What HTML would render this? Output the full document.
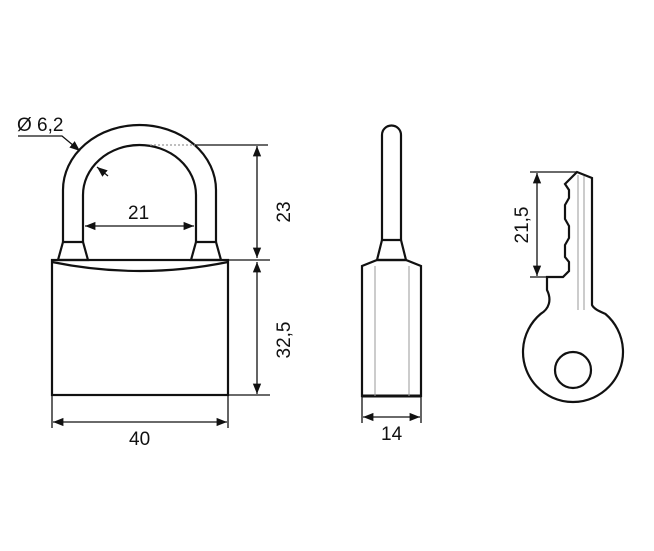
<!DOCTYPE html>
<html><head><style>body{margin:0;background:#fff}svg{display:block}text{font-family:"Liberation Sans",sans-serif;font-size:19px;fill:#111}</style></head><body>
<svg width="654" height="551" viewBox="0 0 654 551" xmlns="http://www.w3.org/2000/svg">
<defs><marker id="a" viewBox="0 0 10 10" refX="10" refY="5" markerWidth="8" markerHeight="8" orient="auto-start-reverse"><path d="M0,1 L10,5 L0,9 z" fill="#111"/></marker></defs>
<g fill="none" stroke="#111" stroke-width="2.2">
<path d="M63,242 V190 A76.5,65 0 0 1 216,190 V242"/>
<path d="M83,242 V195 A56.5,50 0 0 1 196,195 V242"/>
<path d="M63,242 H83 L88,260 H58 Z"/>
<path d="M196,242 H216 L221,260 H191 Z"/>
<rect x="52" y="260" width="176" height="135"/>
<path d="M52,262 Q140,280 228,262"/>
<path d="M382,240 V135 A9.5,9.5 0 0 1 401,135 V240"/>
<path d="M382,240 H401 L406,260 H377 Z"/>
<path d="M362,396 V266 L377,260 H406 L421,266 V396 Z"/>
<path d="M362,396 H421" stroke-width="3"/>
<path d="M547,277 H563 L569,271 V262 L565,257 V245 L569,238 V226 L565,219 V205 L569,198 V190 L565,184 L577,172 L592,178 V305 C594,309 599,311 605.5,314 A50,50 0 1 1 540.5,314 C549,309 552,300 547,290 Z"/>
<circle cx="573" cy="370" r="18"/>
</g>
<g stroke="#999" stroke-width="1"><line x1="375" y1="266" x2="375" y2="396"/><line x1="409" y1="266" x2="409" y2="396"/><line x1="578" y1="175" x2="578" y2="310"/><line x1="584" y1="176" x2="584" y2="310"/></g>
<g stroke="#111" stroke-width="1.3" fill="none">
<line x1="150" y1="145" x2="195" y2="145" stroke="#999" stroke-dasharray="2,2"/>
<line x1="195" y1="145" x2="268" y2="145"/>
<line x1="228" y1="260" x2="270" y2="260"/>
<line x1="228" y1="395" x2="270" y2="395"/>
<line x1="257" y1="146" x2="257" y2="258" marker-start="url(#a)" marker-end="url(#a)"/>
<line x1="257" y1="262" x2="257" y2="394" marker-start="url(#a)" marker-end="url(#a)"/>
<line x1="52" y1="396" x2="52" y2="428"/><line x1="228" y1="396" x2="228" y2="428"/>
<line x1="53" y1="422" x2="227" y2="422" marker-start="url(#a)" marker-end="url(#a)"/>
<line x1="85" y1="226" x2="194" y2="226" marker-start="url(#a)" marker-end="url(#a)"/>
<path d="M18,136 H62 L80,151" marker-end="url(#a)"/>
<line x1="108" y1="176" x2="97" y2="167" marker-end="url(#a)"/>
<line x1="362" y1="397" x2="362" y2="423"/><line x1="421" y1="397" x2="421" y2="423"/>
<line x1="363" y1="417" x2="420" y2="417" marker-start="url(#a)" marker-end="url(#a)"/>
<line x1="530" y1="172" x2="577" y2="172"/><line x1="530" y1="277" x2="547" y2="277"/>
<line x1="537" y1="173" x2="537" y2="276" marker-start="url(#a)" marker-end="url(#a)"/>
</g>
<text x="17" y="131">Ø 6,2</text>
<text x="128" y="219">21</text>
<text x="129" y="445">40</text>
<text x="381" y="440">14</text>
<text transform="translate(290,212) rotate(-90)" text-anchor="middle">23</text>
<text transform="translate(290,340) rotate(-90)" text-anchor="middle">32,5</text>
<text transform="translate(528,225) rotate(-90)" text-anchor="middle">21,5</text>
</svg>
</body></html>
